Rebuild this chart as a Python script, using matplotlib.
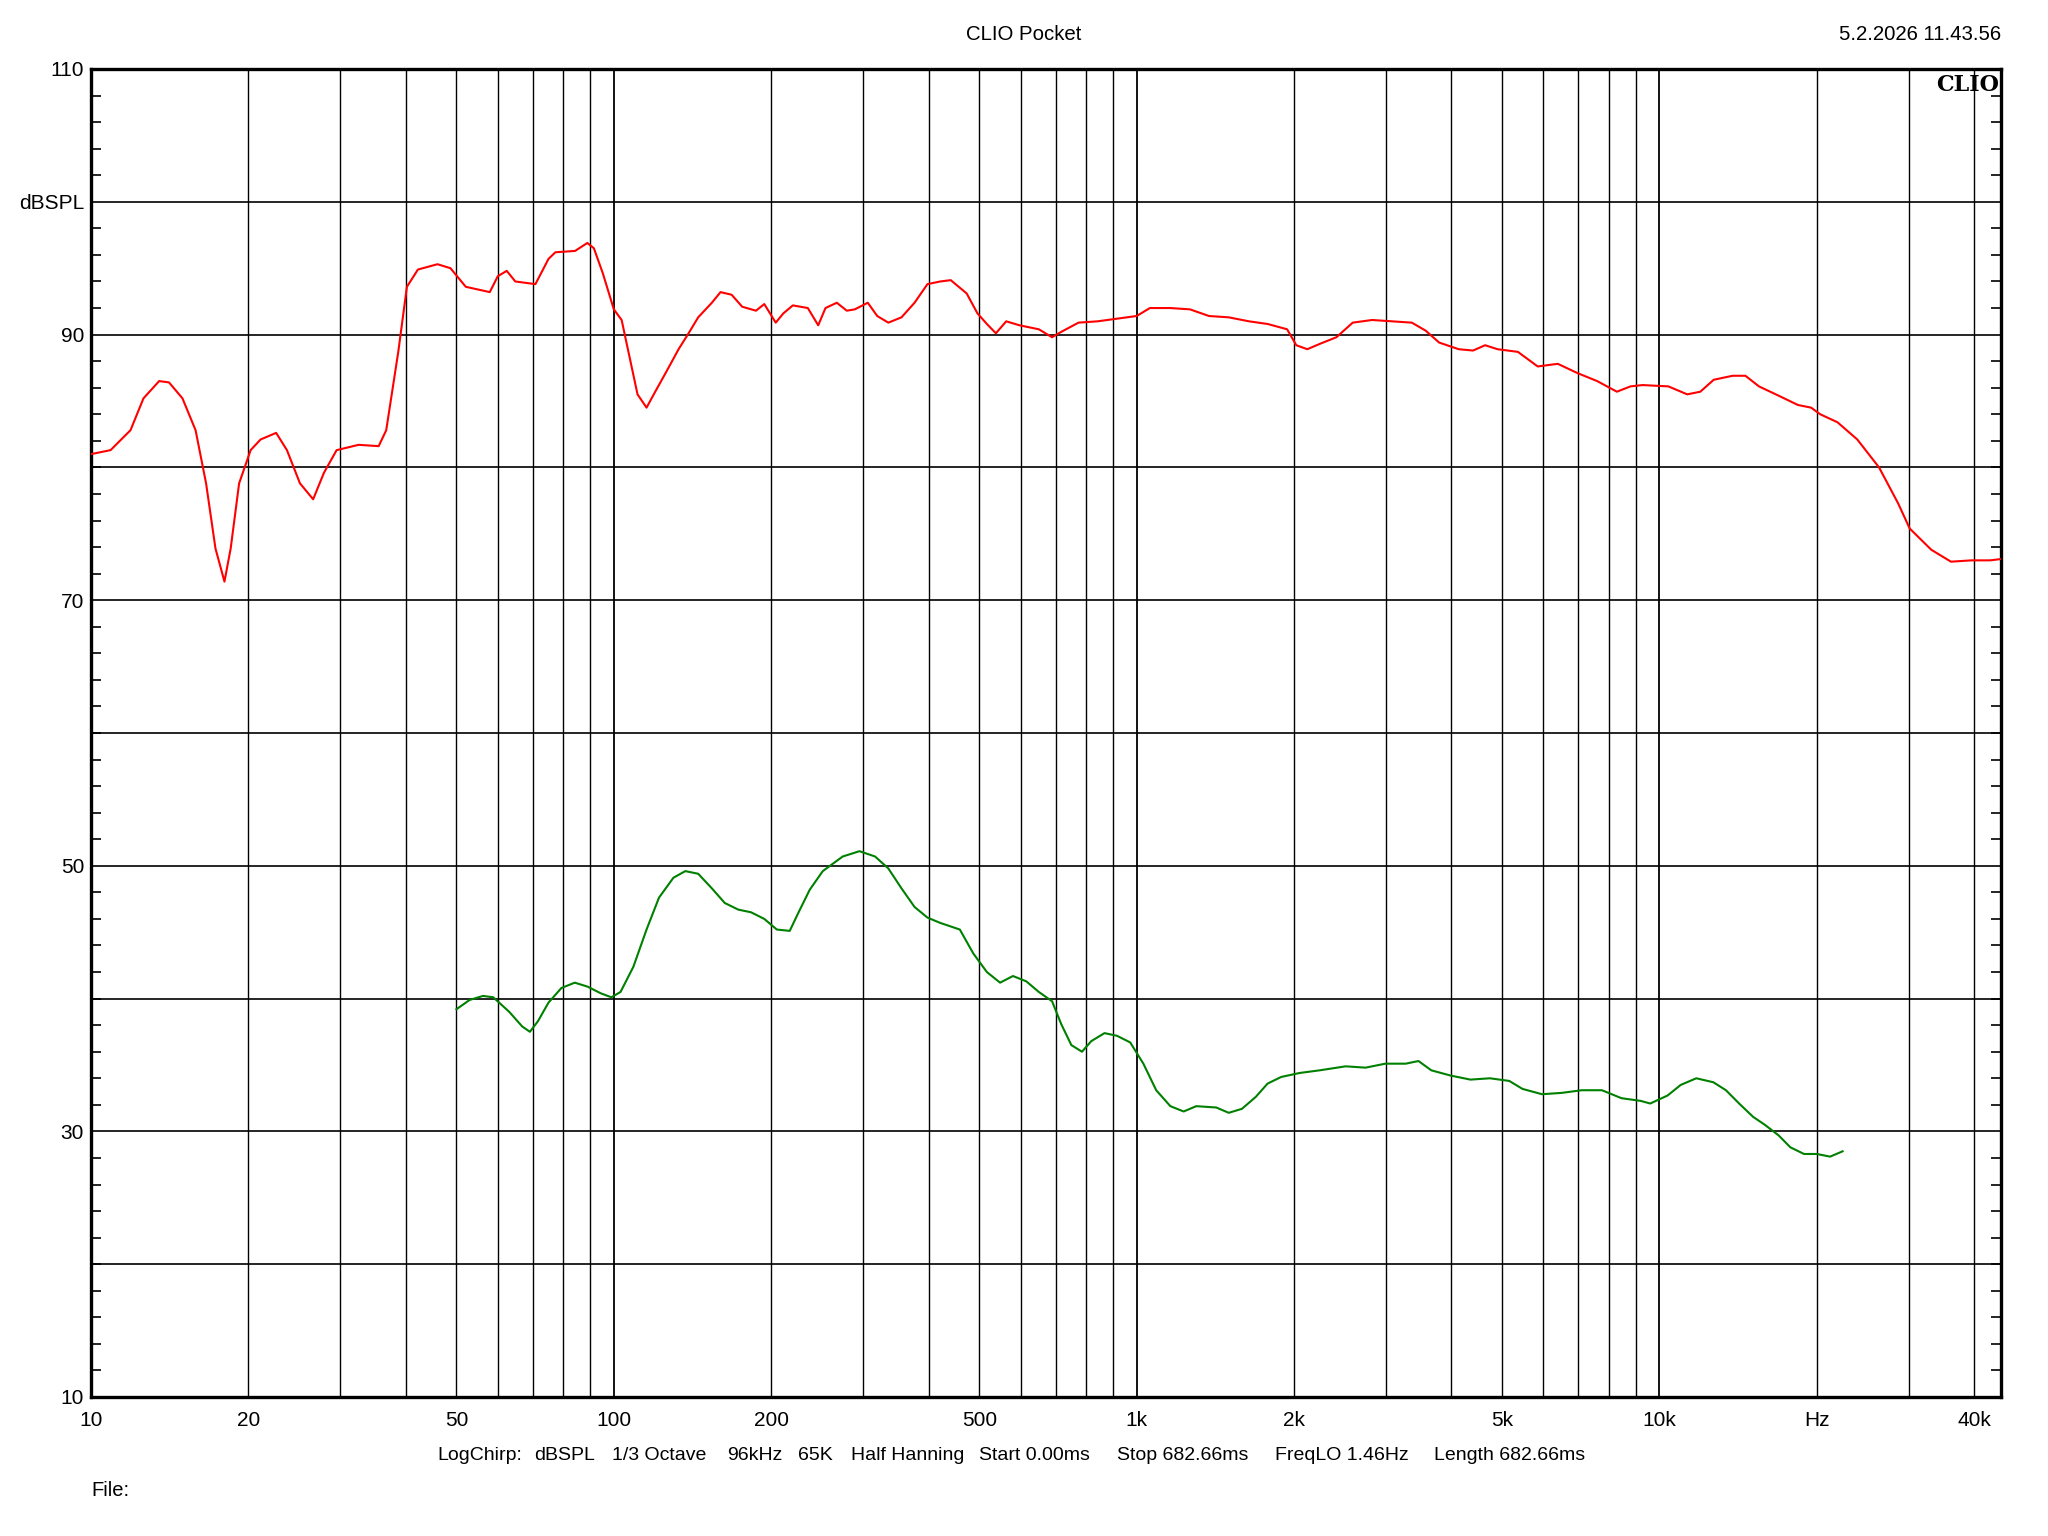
import numpy as np
import matplotlib
matplotlib.use("Agg")
import matplotlib.pyplot as plt
from matplotlib.ticker import FixedLocator, NullFormatter

plt.rcParams['font.family'] = ['Liberation Sans', 'DejaVu Sans']

# ---------------- data ----------------
red_freq = [10, 10.9, 11.9, 12.6, 13.5, 14.1, 14.96, 15.85, 16.6, 17.3, 18.0, 18.5, 19.2,
            20.2, 21.1, 22.6, 23.7, 25.1, 26.6, 27.9, 29.5, 32.5, 35.5, 36.7, 38.7, 40.2,
            42.2, 46.0, 48.7, 52.1, 57.9, 60.0, 62.4, 64.8, 70.8, 75.0, 77.3, 84.3, 89.0,
            91.6, 95.3, 100, 103.5, 107.3, 111, 115.5, 120, 126, 133, 139, 145, 154, 160,
            168, 176, 187, 194, 204, 211, 220, 235, 246, 254, 267, 279, 289, 306, 319, 335,
            355, 376, 398, 421, 441, 473, 496, 517, 538, 563, 597, 650, 689, 717, 774, 842,
            917, 1000, 1060, 1160, 1265, 1375, 1500, 1640, 1780, 1940, 2020, 2120, 2240,
            2410, 2590, 2820, 3080, 3360, 3570, 3790, 4130, 4400, 4640, 4900, 5360, 5850,
            6390, 6970, 7600, 8290, 8800, 9280, 10400, 11300, 11970, 12700, 13800, 14600,
            15500, 16900, 18400, 19500, 20300, 21900, 23900, 26300, 28600, 30100, 33100,
            36100, 39500, 42900, 45000]
red_db = [81.0, 81.3, 82.8, 85.2, 86.5, 86.4, 85.2, 82.8, 78.8, 73.9, 71.4, 73.9, 78.8,
          81.3, 82.1, 82.6, 81.3, 78.8, 77.6, 79.6, 81.3, 81.7, 81.6, 82.8, 88.7, 93.6,
          94.9, 95.3, 95.0, 93.6, 93.2, 94.4, 94.8, 94.0, 93.8, 95.7, 96.2, 96.3, 96.9,
          96.5, 94.6, 91.9, 91.1, 88.2, 85.5, 84.5, 85.7, 87.2, 88.9, 90.1, 91.3, 92.4, 93.2,
          93.0, 92.1, 91.8, 92.3, 90.9, 91.6, 92.2, 92.0, 90.7, 92.0, 92.4, 91.8, 91.9,
          92.4, 91.4, 90.9, 91.3, 92.4, 93.8, 94.0, 94.1, 93.1, 91.6, 90.8, 90.1, 91.0,
          90.7, 90.4, 89.8, 90.2, 90.9, 91.0, 91.2, 91.4, 92.0, 92.0, 91.9, 91.4, 91.3,
          91.0, 90.8, 90.4, 89.2, 88.9, 89.3, 89.8, 90.9, 91.1, 91.0, 90.9, 90.3, 89.4,
          88.9, 88.8, 89.2, 88.9, 88.7, 87.6, 87.8, 87.1, 86.5, 85.7, 86.1, 86.2, 86.1,
          85.5, 85.7, 86.6, 86.9, 86.9, 86.1, 85.4, 84.7, 84.5, 84.0, 83.4, 82.1, 80.0,
          77.3, 75.4, 73.8, 72.9, 73.0, 73.0, 73.1]

green_freq = [50, 53, 56.2, 58.8, 63.1, 66.8, 69.1, 71.6, 75, 79.4, 84.2, 89.1, 94.4, 98.9,
              103, 109, 115.5, 122, 130, 137, 145, 154, 163, 173, 183, 194, 205, 217, 225,
              237, 251, 274, 295, 316, 335, 355, 376, 398, 421, 459, 487, 517, 548, 580,
              615, 650, 689, 717, 750, 786, 819, 868, 917, 972, 1030, 1090, 1160, 1230,
              1300, 1420, 1500, 1590, 1690, 1780, 1890, 2050, 2240, 2510, 2740, 2990, 3270,
              3460, 3660, 3990, 4350, 4740, 5160, 5470, 5960, 6500, 7100, 7760, 8460, 9200,
              9600, 10360, 10980, 11760, 12680, 13400, 14200, 15100, 15900, 16900, 17800,
              18900, 20000, 21200, 22400]
green_db = [39.2, 39.9, 40.2, 40.1, 39.0, 37.9, 37.5, 38.3, 39.7, 40.8, 41.2, 40.9, 40.4,
            40.1, 40.5, 42.4, 45.2, 47.6, 49.1, 49.6, 49.4, 48.3, 47.2, 46.7, 46.5, 46.0,
            45.2, 45.1, 46.4, 48.2, 49.6, 50.7, 51.1, 50.7, 49.8, 48.3, 46.9, 46.1, 45.7,
            45.2, 43.4, 42.0, 41.2, 41.7, 41.3, 40.5, 39.8, 38.1, 36.5, 36.0, 36.8, 37.4,
            37.2, 36.7, 35.1, 33.1, 31.9, 31.5, 31.9, 31.8, 31.4, 31.7, 32.6, 33.6, 34.1,
            34.4, 34.6, 34.9, 34.8, 35.1, 35.1, 35.3, 34.6, 34.2, 33.9, 34.0, 33.8, 33.2,
            32.8, 32.9, 33.1, 33.1, 32.5, 32.3, 32.1, 32.7, 33.5, 34.0, 33.7, 33.1, 32.1,
            31.1, 30.5, 29.7, 28.8, 28.3, 28.3, 28.1, 28.5]

x_tick_values = [10, 20, 50, 100, 200, 500, 1000, 2000, 5000, 10000, 20000, 40000]
x_tick_labels = ['10', '20', '50', '100', '200', '500', '1k', '2k', '5k', '10k', 'Hz', '40k']
y_tick_values = [10, 30, 50, 70, 90, 100, 110]
y_tick_labels = ['10', '30', '50', '70', '90', 'dBSPL', '110']

title_text = 'CLIO Pocket'
date_text = '5.2.2026 11.43.56'
info_items = ['LogChirp:', 'dBSPL', '1/3 Octave', '96kHz', '65K', 'Half Hanning',
              'Start 0.00ms', 'Stop 682.66ms', 'FreqLO 1.46Hz', 'Length 682.66ms']
file_text = 'File:'

# ---------------- figure ----------------
fig = plt.figure(figsize=(20.48, 15.36), dpi=100)
L, R, B, T = 91 / 2048, 2001 / 2048, 1 - 1397 / 1536, 1 - 69 / 1536
ax = fig.add_axes([L, B, R - L, T - B])
ax.set_xscale('log')
ax.set_xlim(10, 45000)
ax.set_ylim(10, 110)

# grid lines
vgrid = []
for dec in [10, 100, 1000, 10000]:
    for m in range(1, 10):
        v = dec * m
        if 10 < v < 45000:
            vgrid.append(v)
for v in vgrid:
    lw = 1.3 if v in (100, 1000, 10000) else 1.0
    ax.axvline(v, color='black', lw=lw, zorder=1)
for h in range(20, 110, 10):
    ax.axhline(h, color='black', lw=1.2, zorder=1)

ax.plot(red_freq, red_db, color='#ff0000', lw=1.5, zorder=3)
ax.plot(green_freq, green_db, color='#008000', lw=1.5, zorder=3)

for s in ax.spines.values():
    s.set_linewidth(2.4)
    s.set_color('black')

ax.xaxis.set_major_locator(FixedLocator(x_tick_values))
ax.set_xticklabels(x_tick_labels)
ax.xaxis.set_minor_locator(FixedLocator([]))
ax.xaxis.set_minor_formatter(NullFormatter())
ax.tick_params(axis='x', which='both', length=0, labelsize=15, pad=10)

ax.yaxis.set_major_locator(FixedLocator(y_tick_values))
ax.set_yticklabels(y_tick_labels)
ax.yaxis.set_minor_locator(FixedLocator(list(range(12, 110, 2))))
ax.tick_params(axis='y', which='major', length=0, labelsize=15, pad=5)
ax.tick_params(axis='y', which='minor', direction='in', length=7, width=1.2,
               left=True, right=True)

ax.text(0.999, 0.996, 'CLIO', transform=ax.transAxes, ha='right', va='top',
        fontsize=16, fontweight='bold', family='DejaVu Serif', zorder=5)

fig.text(0.5, 1 - 35 / 1536, title_text, ha='center', va='center', fontsize=14.7)
fig.text(R, 1 - 35 / 1536, date_text, ha='right', va='center', fontsize=14.7)

# info line: each item placed at its left edge (figure pixels, full size)
info_x = [437, 534, 612, 727, 798, 851, 979, 1117, 1275, 1434]
for xp, item in zip(info_x, info_items):
    fig.text(xp / 2048, 1 - 1456 / 1536, item, ha='left', va='center', fontsize=14)
fig.text(91 / 2048, 1 - 1490 / 1536, file_text, ha='left', va='center', fontsize=14.5)

fig.savefig('out.png', dpi=100, facecolor='white')
